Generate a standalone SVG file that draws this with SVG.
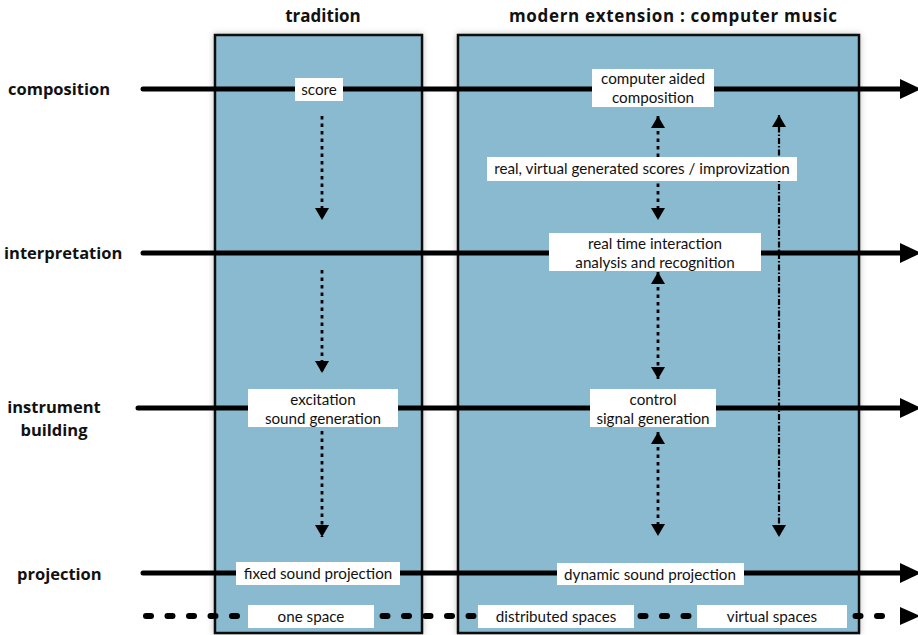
<svg xmlns="http://www.w3.org/2000/svg" width="918" height="635" viewBox="0 0 918 635">
  <style>
    .panel { fill: #8ABACF; stroke: #111; stroke-width: 2.5; }
    .box { fill: #ffffff; }
    .t { font-family: Lato, "Open Sans", sans-serif; font-size: 15.2px; fill: #111; text-anchor: middle; }
    .h { font-family: "Open Sans", Lato, sans-serif; font-size: 17px; font-weight: bold; fill: #111; text-anchor: middle; }
    .lbl { font-family: "Open Sans", Lato, sans-serif; font-size: 16.5px; font-weight: bold; fill: #111; }
    .axis { stroke: #000; stroke-width: 5; stroke-linecap: round; fill: none; }
    .dotaxis { stroke: #000; stroke-width: 6; stroke-linecap: round; stroke-dasharray: 5 16.5; fill: none; }
    .dot { stroke: #000; stroke-width: 2.8; stroke-dasharray: 3.5 4; fill: none; }
    .dashdot { stroke: #000; stroke-width: 2.2; stroke-dasharray: 6 2 1.5 2; fill: none; }
    .head { fill: #000; }
  </style>
  <defs>
    <filter id="shadow" x="-10%" y="-10%" width="120%" height="120%">
      <feDropShadow dx="0" dy="0" stdDeviation="3" flood-color="#000" flood-opacity="0.25"/>
    </filter>
    <marker id="ah" viewBox="0 0 12 14" refX="12" refY="7" markerWidth="12" markerHeight="14" markerUnits="userSpaceOnUse" orient="auto-start-reverse">
      <path d="M0,0 L12,7 L0,14 Z" fill="#000"/>
    </marker>
  </defs>
  <rect width="918" height="635" fill="#ffffff"/>

  <!-- panels -->
  <g id="panel-tradition">
    <rect class="panel" x="215" y="35" width="207" height="598" filter="url(#shadow)"/>
    <text class="h" x="323" y="22">tradition</text>
  </g>
  <g id="panel-modern">
    <rect class="panel" x="458" y="35" width="401" height="598" filter="url(#shadow)"/>
    <text class="h" x="673" y="22" textLength="328" lengthAdjust="spacing">modern extension : computer music</text>
  </g>

  <!-- row labels -->
  <g id="label-composition"><text class="lbl" x="8" y="95">composition</text></g>
  <g id="label-interpretation"><text class="lbl" x="4" y="259">interpretation</text></g>
  <g id="label-instrument"><text class="lbl" x="54" y="413" text-anchor="middle">instrument</text><text class="lbl" x="54" y="436" text-anchor="middle">building</text></g>
  <g id="label-projection"><text class="lbl" x="17" y="580">projection</text></g>

  <!-- connectors -->
  <g id="connectors">
    <line class="axis" x1="143" y1="89" x2="902" y2="89"/>
    <polygon class="head" points="900,79 921,89 900,99"/>
    <line class="axis" x1="143" y1="253" x2="902" y2="253"/>
    <polygon class="head" points="900,243 921,253 900,263"/>
    <line class="axis" x1="138" y1="408" x2="902" y2="408"/>
    <polygon class="head" points="900,398 921,408 900,418"/>
    <line class="axis" x1="143" y1="573" x2="902" y2="573"/>
    <polygon class="head" points="900,563 921,573 900,583"/>
    <line class="dotaxis" x1="146" y1="616" x2="895" y2="616"/>
    <polygon class="head" points="900,607 920,616 900,625"/>

    <!-- tradition vertical arrows -->
    <line class="dot" x1="322" y1="116" x2="322" y2="220" marker-end="url(#ah)"/>
    <line class="dot" x1="322" y1="270" x2="322" y2="373" marker-end="url(#ah)"/>
    <line class="dot" x1="322" y1="431" x2="322" y2="537" marker-end="url(#ah)"/>

    <!-- modern vertical arrows -->
    <line class="dot" x1="658" y1="116" x2="658" y2="220" marker-start="url(#ah)" marker-end="url(#ah)"/>
    <line class="dot" x1="658" y1="272" x2="658" y2="379" marker-start="url(#ah)" marker-end="url(#ah)"/>
    <line class="dot" x1="658" y1="432" x2="658" y2="536" marker-start="url(#ah)" marker-end="url(#ah)"/>
    <line class="dashdot" x1="779" y1="115" x2="779" y2="537" marker-start="url(#ah)" marker-end="url(#ah)"/>
  </g>

  <!-- nodes -->
  <g id="node-score">
    <rect class="box" x="295" y="78" width="48" height="23"/>
    <text class="t" x="319" y="95">score</text>
  </g>
  <g id="node-cac">
    <rect class="box" x="592" y="69" width="122" height="38"/>
    <text class="t" x="653" y="84">computer aided</text>
    <text class="t" x="653" y="103">composition</text>
  </g>
  <g id="node-scores">
    <rect class="box" x="487" y="157" width="310" height="24"/>
    <text class="t" x="642" y="174">real, virtual generated scores / improvization</text>
  </g>
  <g id="node-rti">
    <rect class="box" x="549" y="233" width="212" height="38"/>
    <text class="t" x="655" y="249">real time interaction</text>
    <text class="t" x="655" y="268">analysis and recognition</text>
  </g>
  <g id="node-excitation">
    <rect class="box" x="248" y="389" width="150" height="38"/>
    <text class="t" x="323" y="405">excitation</text>
    <text class="t" x="323" y="424">sound generation</text>
  </g>
  <g id="node-control">
    <rect class="box" x="590" y="389" width="126" height="38"/>
    <text class="t" x="653" y="405">control</text>
    <text class="t" x="653" y="424">signal generation</text>
  </g>
  <g id="node-fixed">
    <rect class="box" x="236" y="562" width="164" height="23"/>
    <text class="t" x="318" y="579">fixed sound projection</text>
  </g>
  <g id="node-dynamic">
    <rect class="box" x="557" y="563" width="187" height="22"/>
    <text class="t" x="650" y="580">dynamic sound projection</text>
  </g>
  <g id="node-one">
    <rect class="box" x="248" y="605" width="126" height="23"/>
    <text class="t" x="311" y="622">one space</text>
  </g>
  <g id="node-distributed">
    <rect class="box" x="478" y="605" width="156" height="23"/>
    <text class="t" x="556" y="622">distributed spaces</text>
  </g>
  <g id="node-virtual">
    <rect class="box" x="697" y="605" width="150" height="23"/>
    <text class="t" x="772" y="622">virtual spaces</text>
  </g>
</svg>
